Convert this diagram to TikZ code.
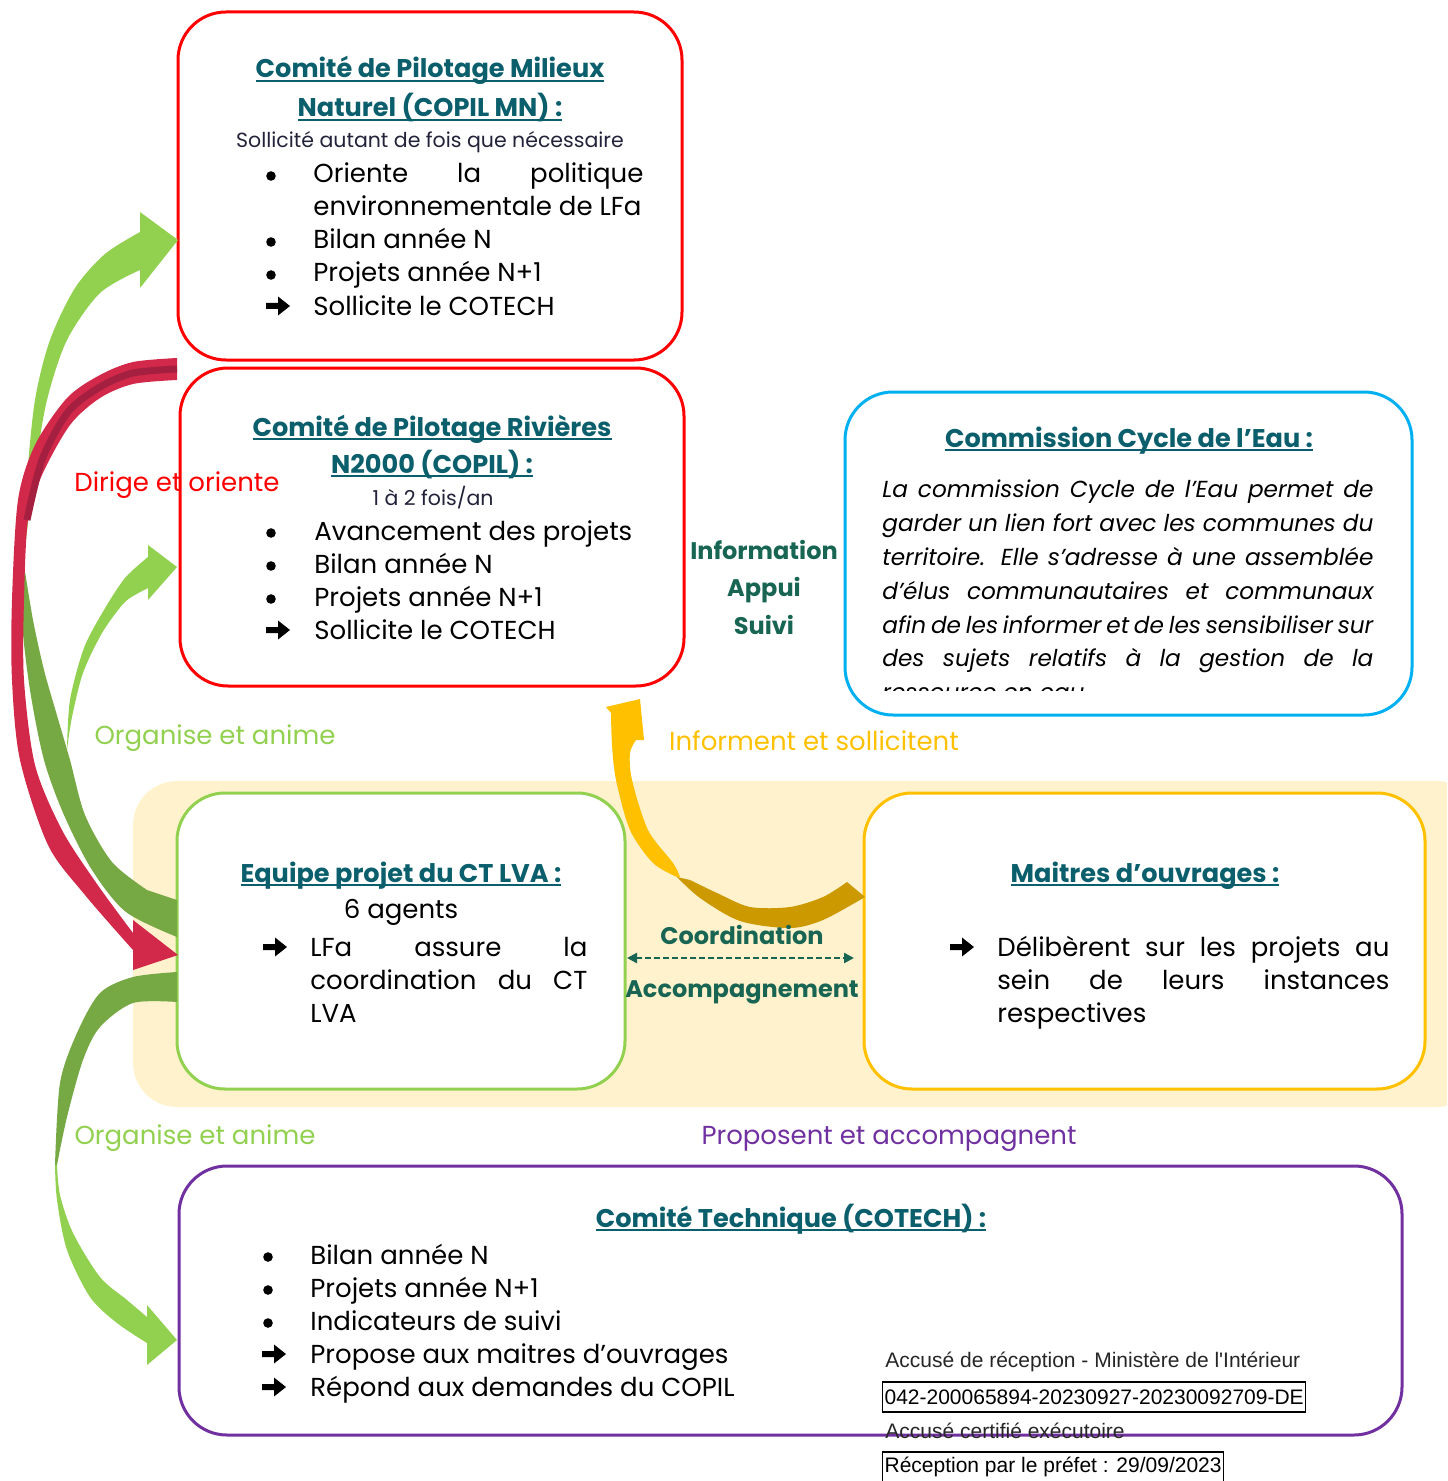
\documentclass[tikz,border=0pt]{standalone}
\usepackage{fontspec}
\setmainfont{Poppins}
\newfontfamily\stampfont{Liberation Sans}
\usetikzlibrary{arrows.meta}

\definecolor{redbox}{HTML}{FF0000}
\definecolor{crimson}{HTML}{D2284A}
\definecolor{crimsondk}{HTML}{A52040}
\definecolor{lgreen}{HTML}{92D050}
\definecolor{dgreen}{HTML}{76A843}
\definecolor{amber}{HTML}{FFC000}
\definecolor{amberdk}{HTML}{CC9A00}
\definecolor{bandfill}{HTML}{FFF2CC}
\definecolor{cyanbox}{HTML}{00B0F0}
\definecolor{purplebox}{HTML}{7030A0}
\definecolor{titleteal}{HTML}{0B5E6B}
\definecolor{midteal}{HTML}{176552}
\definecolor{subink}{HTML}{22223A}

% underlined box title
\newcommand{\ttl}[1]{\setbox0\hbox{#1}\rlap{\rule[-2pt]{\wd0}{1pt}}\box0}
\newcommand{\jl}[2]{\makebox[#1][s]{#2}}

\tikzset{
    pics/bulletdot/.style={code={\fill (0,0) circle[radius=2.4pt];}},
    pics/rarrow/.style={code={\fill (0,-3) -- (12,-3) -- (12,-9.5) -- (24,0) -- (12,9.5) -- (12,3) -- (0,3) -- cycle;}}
}

\begin{document}
\begin{tikzpicture}[x=0.5pt, y=-0.5pt,
    box/.style={draw, fill=white, rounded corners=24pt, line width=1.5pt, inner sep=0pt, outer sep=0pt},
    boxtitle/.style={font=\fontsize{12.8}{16}\selectfont\bfseries, text=titleteal, inner sep=0pt, anchor=base},
    itm/.style={font=\fontsize{13}{16}\selectfont, inner sep=0pt, anchor=base west},
    sub/.style={font=\fontsize{10.25}{13}\selectfont, text=subink, inner sep=0pt, anchor=base},
    lbl/.style={font=\fontsize{13}{16}\selectfont, inner sep=0pt, anchor=base},
    mid/.style={font=\fontsize{12}{15}\selectfont\bfseries, text=midteal, inner sep=0pt, anchor=base},
    stamp/.style={font=\stampfont\fontsize{10.5}{12}\selectfont, inner sep=0pt, anchor=base west},
    >={Triangle[length=5pt, width=5pt]}]
    \useasboundingbox (0,0) rectangle (1447,1481);
    \clip (0,0) rectangle (1447,1481);

    % yellow band behind the two middle boxes
    \fill[bandfill, rounded corners=22pt] (133,781) rectangle (1480,1107);

    % boxes
    \node[box, draw=redbox, minimum width=252pt, minimum height=174pt] (copilmn) at (430,186) {};
    \node[box, draw=redbox, minimum width=252pt, minimum height=159pt] (copilriv) at (432,527) {};
    \node[box, draw=cyanbox, minimum width=283.5pt, minimum height=161.5pt] (cycleeau) at (1128.5,553.5) {};
    \node[box, draw=lgreen, minimum width=224pt, minimum height=148pt] (equipe) at (401,941) {};
    \node[box, draw=amber, minimum width=280.5pt, minimum height=148pt] (maitres) at (1144.5,941) {};
    \node[box, draw=purplebox, minimum width=611.5pt, minimum height=134.5pt] (cotech) at (790.5,1300.5) {};

    % big green arrow: equipe -> COPIL MN
    \fill[dgreen] plot[smooth] coordinates {(24,565) (22,620) (30,690) (44,760) (64,815) (92,870) (126,912) (177,937)}
        -- (177,900) -- plot[smooth] coordinates {(147,890) (112,862) (85,815) (70,760) (56,712) (44,670) (33,620) (24,565)} -- cycle;
    \fill[lgreen] plot[smooth] coordinates {(24,565) (27,480) (35,400) (50,340) (75,288) (105,254) (140,232)}
        -- (140,212) -- (178,240) -- (140,288)
        -- plot[smooth] coordinates {(140,270) (100,293) (67,340) (47,400) (35,470) (26,540) (24,565)} -- cycle;

    % small green arrow: equipe -> COPIL rivieres
    \fill[lgreen] plot[smooth] coordinates {(67,750) (70,700) (84,648) (104,610) (125,578) (148,557)}
        -- (148,545) -- (177,567) -- (148,600)
        -- plot[smooth] coordinates {(148,588) (135,595) (123,604) (102,633) (83,673) (72,717) (67,750)} -- cycle;

    % green arrow: equipe -> COTECH
    \fill[dgreen] plot[smooth] coordinates {(177,972) (133,977) (100,993) (77,1033) (60,1083) (55,1165)}
        -- plot[smooth] coordinates {(57,1165) (67,1117) (83,1060) (100,1027) (133,1003) (177,1002)} -- cycle;
    \fill[lgreen] plot[smooth] coordinates {(55,1165) (57,1200) (67,1250) (90,1297) (117,1323) (147,1343)}
        -- (147,1365) -- (177,1340) -- (147,1305)
        -- plot[smooth] coordinates {(147,1317) (127,1300) (100,1277) (73,1233) (60,1195) (57,1165)} -- cycle;

    % red arrow: COPIL -> equipe
    \fill[crimson] plot[smooth] coordinates {(177,358) (133,362) (100,375) (67,398) (35,445) (18,500) (12,600) (12,680) (20,760) (48,845) (85,895) (133,950)}
        -- (133,970) -- (178,955) -- (133,920)
        -- plot[smooth] coordinates {(133,933) (97,884) (62,830) (35,765) (24,680) (24,600) (28,520) (42,475) (70,425) (100,398) (133,384) (177,380)} -- cycle;
    \draw[crimsondk, line width=3.5pt] plot[smooth] coordinates {(177,369) (133,373) (100,387) (68,412) (42,460) (27,520)};

    % yellow arrow: maitres -> COPIL rivieres
    \fill[amberdk] plot[smooth] coordinates {(865,897) (823,920) (790,928) (740,921) (700,898) (677,877)}
        -- plot[smooth] coordinates {(690,880) (717,893) (750,907) (790,907) (823,897) (847,882)} -- cycle;
    \fill[amber] plot[smooth] coordinates {(677,877) (653,863) (630,830) (616,780) (612,745) (611,713)}
        -- (606,707) -- (640,699) -- (644,740)
        -- plot[smooth] coordinates {(636,740) (630,753) (632,780) (648,830) (673,863) (680,877)} -- cycle;

    % COPIL MN
    \node[boxtitle] (mnt1) at (430,78) {\ttl{Comité de Pilotage Milieux}};
    \node[boxtitle] (mnt2) at (430,117) {\ttl{Naturel (COPIL MN) :}};
    \node[sub] (mnsub) at (430,148) {Sollicité autant de fois que nécessaire};
    \foreach \y in {176,242,275} \pic at (271,\y) {bulletdot};
    \pic at (266,306) {rarrow};
    \node[itm] (mn1) at (313,183) {\jl{165pt}{Oriente la politique}};
    \foreach \y/\t [count=\i from 2] in {216/environnementale de LFa, 249/Bilan année N, 282/Projets année N+1, 315/Sollicite le COTECH}
        \node[itm] (mn\i) at (313,\y) {\t};

    % COPIL rivieres
    \node[boxtitle] (rivt1) at (432,436) {\ttl{Comité de Pilotage Rivières}};
    \node[boxtitle] (rivt2) at (432,473) {\ttl{N2000 (COPIL) :}};
    \node[sub] (rivsub) at (433,505) {1 à 2 fois/an};
    \foreach \y in {533,566,599} \pic at (271,\y) {bulletdot};
    \pic at (266,630) {rarrow};
    \foreach \y/\t [count=\i] in {540/Avancement des projets, 573/Bilan année N, 606/Projets année N+1, 639/Sollicite le COTECH}
        \node[itm] (riv\i) at (314,\y) {\t};

    % commission cycle de l'eau
    \node[boxtitle] (eaut) at (1129,447) {\ttl{Commission Cycle de l’Eau :}};
    \begin{scope}
        \clip (845,392) rectangle (1412,690);
        \foreach \y/\t [count=\i] in {497/La commission Cycle de l’Eau permet de, 531/garder un lien fort avec les communes du,
            565/territoire. Elle s’adresse à une assemblée, 599/d’élus communautaires et communaux,
            633/afin de les informer et de les sensibiliser sur, 666/des sujets relatifs à la gestion de la}
            \node[itm, font=\fontsize{11.6}{14}\selectfont\itshape] (eau\i) at (882,\y) {\jl{245.5pt}{\t}};
        \node[itm, font=\fontsize{11.6}{14}\selectfont\itshape] (eau7) at (882,700) {ressource en eau.};
    \end{scope}

    % information
    \node[mid] (info) at (764,559) {Information};
    \node[mid] (appui) at (764,596) {Appui};
    \node[mid] (suivi) at (764,634) {Suivi};

    % equipe projet
    \node[boxtitle] (eqt) at (401,882) {\ttl{Equipe projet du CT LVA :}};
    \node[itm, anchor=base] (eqsub) at (401,918) {6 agents};
    \pic at (263,947) {rarrow};
    \node[itm] (eq1) at (310,956) {\jl{138.5pt}{LFa assure la}};
    \node[itm] (eq2) at (310,989) {\jl{138.5pt}{coordination du CT}};
    \node[itm] (eq3) at (310,1022) {LVA};

    % maitres d'ouvrages
    \node[boxtitle] (mot) at (1145,882) {\ttl{Maitres d’ouvrages :}};
    \pic at (950,947) {rarrow};
    \node[itm] (mo1) at (997,956) {\jl{196pt}{Délibèrent sur les projets au}};
    \node[itm] (mo2) at (997,989) {\jl{196pt}{sein de leurs instances}};
    \node[itm] (mo3) at (997,1022) {respectives};

    % coordination between equipe and maitres
    \coordinate (cy) at (0,958);
    \node[mid] (coord) at (742,944) {Coordination};
    \node[mid] (accomp) at (742,997) {Accompagnement};
    \draw[<->, midteal, line width=1.2pt, dash pattern=on 3pt off 1.5pt, shorten >=5pt, shorten <=1pt] (equipe.east |- cy) -- (maitres.west |- cy);

    % COTECH
    \node[boxtitle] (ctt) at (791,1227) {\ttl{Comité Technique (COTECH) :}};
    \foreach \y in {1257,1290,1323} \pic at (268,\y) {bulletdot};
    \foreach \y in {1354,1387} \pic at (262,\y) {rarrow};
    \foreach \y/\t [count=\i] in {1264/Bilan année N, 1297/Projets année N+1, 1330/Indicateurs de suivi, 1363/Propose aux maitres d’ouvrages, 1396/Répond aux demandes du COPIL}
        \node[itm] (ct\i) at (310,\y) {\t};

    % arrow labels
    \node[lbl, text=redbox] (dirige) at (177,491) {Dirige et oriente};
    \node[lbl, text=lgreen] (organise1) at (215,744) {Organise et anime};
    \node[lbl, text=amber] (informent) at (814,750) {Informent et sollicitent};
    \node[lbl, text=lgreen] (organise2) at (195,1144) {Organise et anime};
    \node[lbl, text=purplebox] (proposent) at (889,1144) {Proposent et accompagnent};

    % stamp
    \node[stamp, text=black!85] (st1) at (885,1367) {Accusé de réception - Ministère de l'Intérieur};
    \node[stamp, draw, line width=0.6pt, inner xsep=1pt, minimum height=15pt, anchor=west] (st2) at (882,1397) {042-200065894-20230927-20230092709-DE};
    \node[stamp, text=black!85] (st3) at (885,1438) {Accusé certifié exécutoire};
    \node[stamp, draw, line width=0.6pt, inner xsep=1pt, minimum height=15pt, anchor=west] (st4) at (882,1467) {Réception par le préfet : 29/09/2023};
\end{tikzpicture}
\end{document}
